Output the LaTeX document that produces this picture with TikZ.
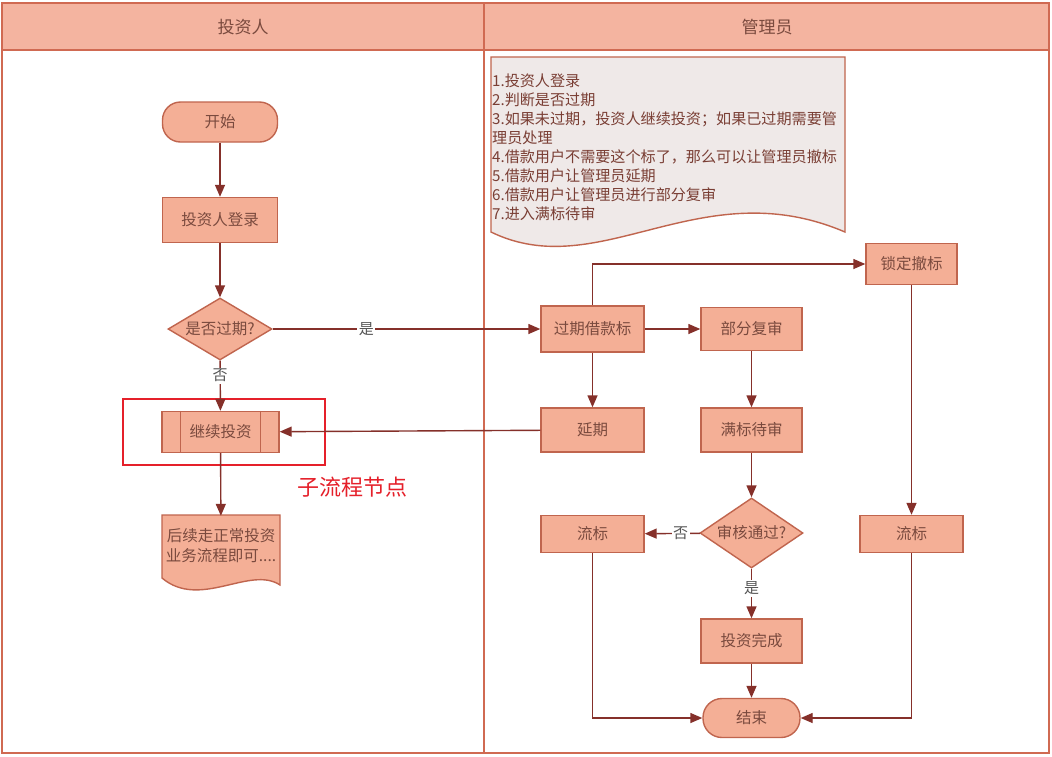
\documentclass[tikz,border=0pt]{standalone}
\usepackage{fontspec}
\setmainfont{Noto Sans CJK SC}
\usetikzlibrary{arrows.meta,shapes.geometric}
\definecolor{lanefill}{HTML}{F4B4A0}
\definecolor{laneline}{HTML}{D06A52}
\definecolor{nodefill}{HTML}{F4AF96}
\definecolor{nodeline}{HTML}{C0654E}
\definecolor{arrowc}{HTML}{85302A}
\definecolor{textc}{HTML}{7A4A3E}
\definecolor{notefill}{HTML}{EFE9E8}
\definecolor{notetext}{HTML}{7A3E34}
\definecolor{lblc}{HTML}{555555}
\definecolor{hlred}{HTML}{E5202A}
\tikzset{
  proc/.style={draw=nodeline, fill=nodefill, line width=1.4pt, minimum width=103pt, minimum height=44pt, inner sep=0pt, text=textc, font=\fontsize{15.5}{17}\selectfont},
  term/.style={proc, rounded corners=19pt},
  dec/.style={proc, diamond, aspect=1.68, minimum width=104pt, minimum height=62pt},
  arr/.style={draw=arrowc, line width=1.4pt, -{Triangle[length=12pt,width=10pt]}},
  lbl/.style={fill=white, inner sep=1.5pt, text=lblc, font=\fontsize{15}{16}\selectfont},
  lanetext/.style={text=textc, font=\fontsize{17}{18}\selectfont},
}
\begin{document}
\begin{tikzpicture}[x=1pt,y=-1pt]
\useasboundingbox (0,0) rectangle (1052,756);
\fill[white] (0,0) rectangle (1052,756);
% swimlanes
\fill[lanefill] (2,3) rectangle (1049,50);
\draw[laneline, line width=1.6pt] (2,3) rectangle (1049,753);
\draw[laneline, line width=1.6pt] (2,50) -- (1049,50);
\draw[laneline, line width=1.6pt] (484,3) -- (484,753);
\node[lanetext] (laneA) at (243,27) {投资人};
\node[lanetext] (laneB) at (767,27) {管理员};

% note (document shape)
\draw[nodeline, fill=notefill, line width=1.4pt] (491,57) -- (845,57) -- (845,232)
  .. controls (700,170) and (600,285) .. (491,232) -- cycle;
\node[anchor=north west, align=left, inner sep=0pt, text=notetext, font=\fontsize{15.1}{19}\selectfont] (note) at (492,74) {1.投资人登录\\2.判断是否过期\\3.如果未过期，投资人继续投资；如果已过期需要管\\理员处理\\4.借款用户不需要这个标了，那么可以让管理员撤标\\5.借款用户让管理员延期\\6.借款用户让管理员进行部分复审\\7.进入满标待审};

% left lane
\node[term, minimum width=115pt, minimum height=40pt, rounded corners=18pt] (start) at (220,122) {开始};
\node[proc, minimum width=115pt, minimum height=45pt] (login) at (220,220) {投资人登录};
\node[dec] (expired) at (220,329) {是否过期?};
\node[proc, minimum width=117pt, minimum height=41pt] (cont) at (220.5,432) {继续投资};
\draw[nodeline, line width=1.4pt] ([xshift=19pt]cont.north west) -- ([xshift=19pt]cont.south west);
\draw[nodeline, line width=1.4pt] ([xshift=-19pt]cont.north east) -- ([xshift=-19pt]cont.south east);
\draw[nodeline, fill=nodefill, line width=1.4pt] (162,515) -- (280,515) -- (280,585)
  .. controls (250,565) and (200,610) .. (162,578) -- cycle;
\node[inner sep=0pt, minimum width=118pt, minimum height=60pt, align=center, text=textc, font=\fontsize{15.5}{20}\selectfont] (follow) at (221,546) {后续走正常投资\\业务流程即可....};
\node[draw=hlred, line width=2pt, minimum width=202pt, minimum height=66pt] (hl) at (224,432) {};
\node[text=hlred, font=\fontsize{22}{24}\selectfont] (hltext) at (352,487) {子流程节点};

% right lane
\node[proc, minimum width=91pt, minimum height=41pt] (lock) at (911.5,264) {锁定撤标};
\node[proc, minimum height=46pt] (overdue) at (592.5,329) {过期借款标};
\node[proc, minimum width=101pt, minimum height=43pt] (partial) at (751.5,329) {部分复审};
\node[proc] (delay) at (592.5,430) {延期};
\node[proc, minimum width=101pt] (full) at (751.5,430) {满标待审};
\node[dec, minimum width=103pt, minimum height=70pt, aspect=1.47] (audit) at (751.5,533) {审核通过?};
\node[proc, minimum height=37pt] (failL) at (592.5,534) {流标};
\node[proc, minimum height=37pt] (failR) at (911.5,534) {流标};
\node[proc, minimum width=101pt] (done) at (751.5,641) {投资完成};
\node[term, minimum width=97pt, minimum height=39pt] (end) at (751.5,718) {结束};

% connectors
\draw[arr] (start) -- (login);
\draw[arr] (login) -- (expired);
\draw[arr] (expired) -- node[lbl, pos=0.3]{否} (cont);
\draw[arr] (cont) -- (follow);
\draw[arr] (expired) -- node[lbl, pos=0.35]{是} (overdue);
\draw[arr] (overdue) -- (partial);
\draw[arr] (overdue.north) |- (lock);
\draw[arr] (overdue) -- (delay);
\draw[arr] (delay) -- (cont);
\draw[arr] (partial) -- (full);
\draw[arr] (full) -- (audit);
\draw[arr] (audit) -- node[lbl, pos=0.35]{否} (failL);
\draw[arr] (audit) -- node[lbl, pos=0.4]{是} (done);
\draw[arr] (done) -- (end);
\draw[arr] (failL) |- (end);
\draw[arr] (lock) -- (failR);
\draw[arr] (failR) |- (end);
\end{tikzpicture}
\end{document}
